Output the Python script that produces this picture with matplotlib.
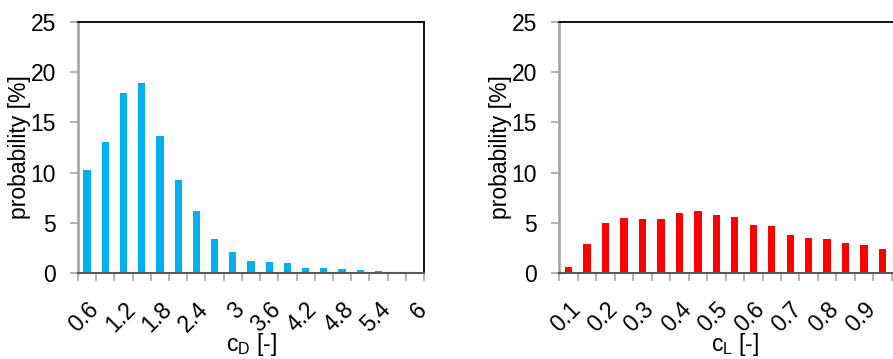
import numpy as np
import matplotlib
matplotlib.use('Agg')
import matplotlib.pyplot as plt
import matplotlib.transforms as mtransforms

plt.rcParams['font.family'] = ['Liberation Sans', 'DejaVu Sans']
plt.rcParams['mathtext.fontset'] = 'custom'
plt.rcParams['mathtext.rm'] = 'Liberation Sans'
plt.rcParams['mathtext.it'] = 'Liberation Sans'

# drag coefficient bins (step 0.3) and probabilities [%]
cd_bins = ['0.6', '0.9', '1.2', '1.5', '1.8', '2.1', '2.4', '2.7', '3', '3.3',
           '3.6', '3.9', '4.2', '4.5', '4.8', '5.1', '5.4', '5.7', '6']
cd_prob = [10.25, 13.0, 17.9, 18.95, 13.65, 9.25, 6.15, 3.43, 2.13, 1.23,
           1.08, 0.96, 0.46, 0.46, 0.4, 0.28, 0.24, 0.07, 0.0]

# lift coefficient bins (step 0.05) and probabilities [%]
cl_bins = ['0.1', '0.15', '0.2', '0.25', '0.3', '0.35', '0.4', '0.45', '0.5', '0.55',
           '0.6', '0.65', '0.7', '0.75', '0.8', '0.85', '0.9', '0.95', '1']
cl_prob = [0.6, 2.92, 5.0, 5.46, 5.42, 5.39, 6.01, 6.21, 5.74, 5.61,
           4.75, 4.71, 3.78, 3.5, 3.34, 2.99, 2.82, 2.37, 2.1]

Y_TICKS = [0, 5, 10, 15, 20, 25]
FS = 16.5


def draw(fig, ax, bins, prob, color, xlabel):
    ''' excel-ish category bar chart '''
    n = len(bins)
    x = np.arange(n)
    ax.bar(x, prob, width=0.4, color=color, zorder=2)
    ax.set_xlim(-0.5, n - 0.5)
    ax.set_ylim(0, 25)
    ax.set_yticks(Y_TICKS)
    ax.set_yticklabels([str(t) for t in Y_TICKS], fontsize=FS)
    # labels on every other category, tick marks on the boundaries
    ax.set_xticks(x[::2])
    ax.set_xticklabels(bins[::2], fontsize=FS, rotation=45, ha='right', va='top',
                       rotation_mode='anchor')
    # nudge rotated labels a bit to the left like excel does
    shift = mtransforms.ScaledTranslation(-6 / 100, 0, fig.dpi_scale_trans)
    for lab in ax.get_xticklabels():
        lab.set_transform(lab.get_transform() + shift)
    ax.set_xticks(np.arange(n + 1) - 0.5, minor=True)
    ax.tick_params(axis='x', which='major', length=0, pad=18)
    ax.tick_params(axis='x', which='minor', length=6, width=1.2, color='#a6a6a6')
    ax.tick_params(axis='y', length=6, width=1.2, color='#a6a6a6', pad=10)
    ax.spines['left'].set_color('#a0a0a0')
    ax.spines['left'].set_linewidth(1.8)
    ax.spines['bottom'].set_color('#595959')
    ax.spines['bottom'].set_linewidth(1.5)
    ax.spines['bottom'].set_zorder(3)
    ax.spines['top'].set_color('black')
    ax.spines['top'].set_linewidth(1.3)
    ax.spines['right'].set_color('black')
    ax.spines['right'].set_linewidth(1.3)
    ax.set_ylabel('probability [%]', fontsize=FS)
    ax.yaxis.set_label_coords(-0.135, 0.5)
    ax.set_xlabel(xlabel, fontsize=FS, va='baseline')
    ax.xaxis.set_label_coords(0.5, -0.31)


fig = plt.figure(figsize=(8.93, 3.59), dpi=100)
ax1 = fig.add_axes([78 / 893, 1 - 273 / 359, 346 / 893, 251 / 359])
ax2 = fig.add_axes([559.3 / 893, 1 - 273 / 359, 351 / 893, 251 / 359])

draw(fig, ax1, cd_bins, cd_prob, '#00b0f0', r'c$_{\rm D}$ [-]')
draw(fig, ax2, cl_bins, cl_prob, '#ff0000', r'c$_{\rm L}$ [-]')

fig.savefig('out.png', dpi=100)
